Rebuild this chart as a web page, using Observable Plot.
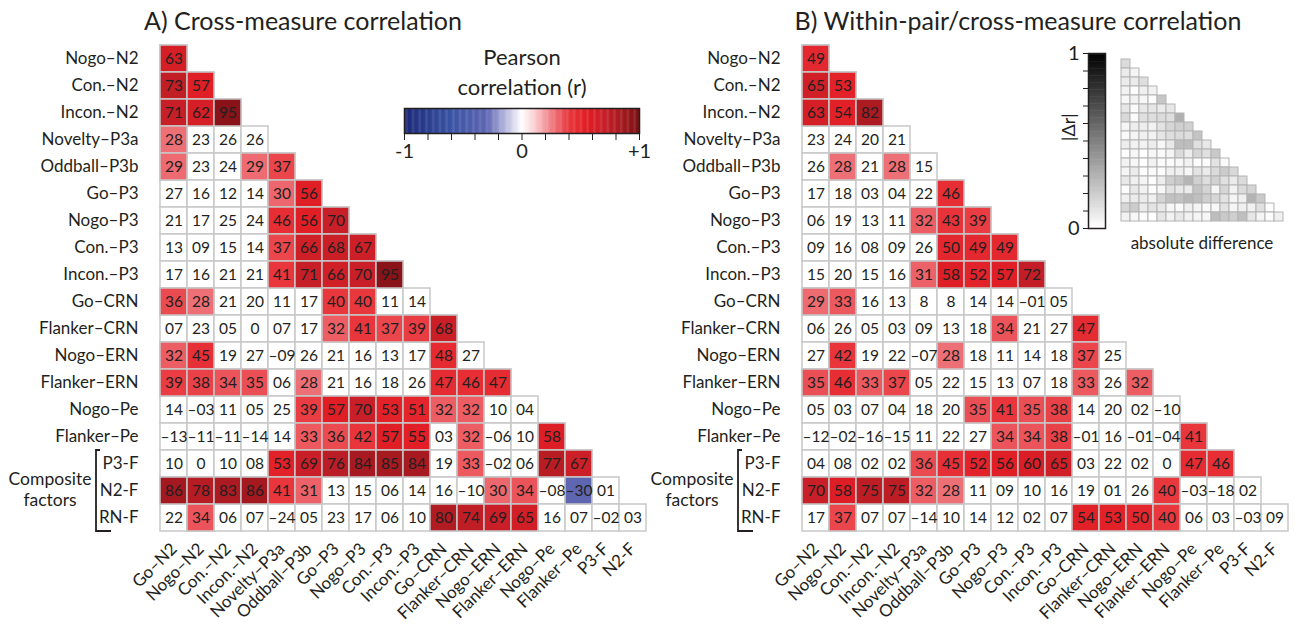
<!DOCTYPE html>
<html><head><meta charset="utf-8">
<script src="https://cdn.jsdelivr.net/npm/d3@7"></script>
<script src="https://cdn.jsdelivr.net/npm/@observablehq/plot@0.6"></script>
<style>
body{margin:0;background:#fff;font-family:Lato,"Open Sans",sans-serif;color:#231f20;}
#root{position:relative;width:1304px;height:624px;overflow:hidden;}
.abs{position:absolute;white-space:nowrap;}
.ctr{transform:translateX(-50%);text-align:center;}
.title{font-size:25px;line-height:30px;}
</style></head><body><div id="root"></div>
<script>
const FONT = "Lato, 'Open Sans', sans-serif";
const INK = "#231f20";

// row (y) and column (x) measures
const rowNames = ["Nogo–N2","Con.–N2","Incon.–N2","Novelty–P3a","Oddball–P3b","Go–P3","Nogo–P3","Con.–P3","Incon.–P3","Go–CRN","Flanker–CRN","Nogo–ERN","Flanker–ERN","Nogo–Pe","Flanker–Pe","P3-F","N2-F","RN-F"];
const colNames = ["Go–N2","Nogo–N2","Con.–N2","Incon.–N2","Novelty–P3a","Oddball–P3b","Go–P3","Nogo–P3","Con.–P3","Incon.–P3","Go–CRN","Flanker–CRN","Nogo–ERN","Flanker–ERN","Nogo–Pe","Flanker–Pe","P3-F","N2-F"];

// A) cross-measure correlations (r x 100), lower triangle by row
const corrA = [
["63"],
["73","57"],
["71","62","95"],
["28","23","26","26"],
["29","23","24","29","37"],
["27","16","12","14","30","56"],
["21","17","25","24","46","56","70"],
["13","09","15","14","37","66","68","67"],
["17","16","21","21","41","71","66","70","95"],
["36","28","21","20","11","17","40","40","11","14"],
["07","23","05","0","07","17","32","41","37","39","68"],
["32","45","19","27","-09","26","21","16","13","17","48","27"],
["39","38","34","35","06","28","21","16","18","26","47","46","47"],
["14","-03","11","05","25","39","57","70","53","51","32","32","10","04"],
["-13","-11","-11","-14","14","33","36","42","57","55","03","32","-06","10","58"],
["10","0","10","08","53","69","76","84","85","84","19","33","-02","06","77","67"],
["86","78","83","86","41","31","13","15","06","14","16","-10","30","34","-08","-30","01"],
["22","34","06","07","-24","05","23","17","06","10","80","74","69","65","16","07","-02","03"]
];

// B) within-pair / cross-measure correlations (r x 100)
const corrB = [
["49"],
["65","53"],
["63","54","82"],
["23","24","20","21"],
["26","28","21","28","15"],
["17","18","03","04","22","46"],
["06","19","13","11","32","43","39"],
["09","16","08","09","26","50","49","49"],
["15","20","15","16","31","58","52","57","72"],
["29","33","16","13","8","8","14","14","-01","05"],
["06","26","05","03","09","13","18","34","21","27","47"],
["27","42","19","22","-07","28","18","11","14","18","37","25"],
["35","46","33","37","05","22","15","13","07","18","33","26","32"],
["05","03","07","04","18","20","35","41","35","38","14","20","02","-10"],
["-12","-02","-16","-15","11","22","27","34","34","38","-01","16","-01","-04","41"],
["04","08","02","02","36","45","52","56","60","65","03","22","02","0","47","46"],
["70","58","75","75","32","28","11","09","10","16","19","01","26","40","-03","-18","02"],
["17","37","07","07","-14","10","14","12","02","07","54","53","50","40","06","03","-03","09"]
];

const sigThreshold = 0.28;
const legendTicks = [-1,-0.8,-0.6,-0.4,-0.2,0,0.2,0.4,0.6,0.8,1];
const diffTicks = [0,0.1,0.2,0.3,0.4,0.5,0.6,0.7,0.8,0.9,1];

const corrColor = {
  type: "linear",
  domain: [-1,-0.6,-0.3,-0.1,0,0.1,0.28,0.4,0.55,0.7,0.85,1],
  range: ["#1c2878","#3a54a4","#5e66b2","#c9c9e6","#ffffff","#fbd3d5","#ee7077","#e8383e","#e21e26","#c81f28","#a61a20","#7a1014"]
};
const diffColor = {type: "linear", domain: [0,1], range: ["#ffffff","#000000"]};

const root = document.getElementById("root");
function place(node, left, top) {
  node.style.position = "absolute"; node.style.left = left + "px"; node.style.top = top + "px";
  root.appendChild(node); return node;
}
function html(str, left, top, cls, css) {
  const d = document.createElement("div");
  d.className = "abs " + (cls || ""); d.innerHTML = str;
  d.style.left = left + "px"; d.style.top = top + "px";
  if (css) Object.assign(d.style, css);
  root.appendChild(d); return d;
}

function toData(rows) {
  const out = [];
  rows.forEach((r, i) => r.forEach((s, j) => out.push({row: rowNames[i], col: colNames[j], label: s.replace("-", "–"), v: +s / 100})));
  return out;
}

const CELL = 27.2;
function matrix(rows, left, width, marginLeft) {
  const data = toData(rows);
  const plot = Plot.plot({
    width, height: 624,
    marginLeft, marginRight: width - marginLeft - 18 * CELL,
    marginTop: 43, marginBottom: 624 - 43 - 18 * CELL,
    x: {domain: colNames, padding: 0, tickRotate: -45, tickSize: 0, tickPadding: 13, label: null},
    y: {domain: rowNames, padding: 0, tickSize: 0, tickPadding: 20, label: null},
    color: corrColor,
    style: {fontFamily: FONT, fontSize: "17px", color: INK, background: "transparent", overflow: "visible"},
    marks: [
      Plot.cell(data, {x: "col", y: "row", fill: "white", stroke: "#c8c8c8", strokeWidth: 1.5, inset: 0}),
      Plot.cell(data.filter(d => Math.abs(d.v) >= sigThreshold), {x: "col", y: "row", fill: "v", stroke: "#c8c8c8", strokeWidth: 1.5, inset: 0}),
      Plot.text(data, {x: "col", y: "row", text: "label", fill: INK, fontSize: 15.5, fontFamily: FONT})
    ]
  });
  // composite-factor bracket, positioned from the y scale
  const ys = plot.scale("y");
  const bw = ys.bandwidth;
  const yTop = ys.apply("P3-F"), yBot = ys.apply("RN-F") + bw;
  const bx = marginLeft - 62;
  const svg = d3.select(plot);
  svg.append("path").attr("d", `M${bx + 4},${yTop}H${bx}V${yBot}H${bx + 15}`)
    .attr("fill", "none").attr("stroke", INK).attr("stroke-width", 1.8);
  const yc = ys.apply("N2-F") + bw / 2;
  svg.append("text").attr("x", bx - 46).attr("y", yc - 12).attr("text-anchor", "middle").attr("dy", "0.35em")
    .attr("font-size", 17.5).attr("font-family", FONT).attr("fill", INK).text("Composite");
  svg.append("text").attr("x", bx - 46).attr("y", yc + 9).attr("text-anchor", "middle").attr("dy", "0.35em")
    .attr("font-size", 17.5).attr("font-family", FONT).attr("fill", INK).text("factors");
  return place(plot, left, 0);
}

matrix(corrA, 0, 660, 158);
matrix(corrB, 642, 662, 158);

// titles
html("A) Cross-measure correlation", 303, 5, "ctr title");
html("B) Within-pair/cross-measure correlation", 1018, 5, "ctr title");

// Pearson colour legend
html("Pearson<br>correlation (r)", 522, 42, "ctr", {fontSize: "22px", lineHeight: "30px"});
const ramp = d3.range(0, 200).map(i => -1 + i * 0.01);
const legend = Plot.plot({
  width: 290, height: 75, marginLeft: 24, marginRight: 31, marginTop: 13, marginBottom: 37,
  x: {domain: [-1, 1], ticks: legendTicks, tickSize: 7, tickPadding: 3, label: null,
      tickFormat: d => d === -1 ? "-1" : d === 0 ? "0" : d === 1 ? "+1" : ""},
  y: {domain: [0, 1], axis: null},
  color: corrColor,
  style: {fontFamily: FONT, fontSize: "20px", color: INK, background: "transparent", overflow: "visible"},
  marks: [
    Plot.rect(ramp, {x1: d => d, x2: d => Math.min(1, d + 0.013), y1: () => 0, y2: () => 1, fill: d => d + 0.005}),
    Plot.frame({stroke: INK, strokeWidth: 1.5})
  ]
});
place(legend, 380, 95);

// inset: absolute difference |A - B|
const diffData = [];
corrA.forEach((r, i) => r.forEach((s, j) => diffData.push({row: rowNames[i], col: colNames[j], d: Math.abs(+s - +corrB[i][j]) / 100})));
const inset = Plot.plot({
  width: 176, height: 176, margin: 1,
  x: {domain: colNames, padding: 0, axis: null},
  y: {domain: rowNames, padding: 0, axis: null},
  color: diffColor,
  style: {background: "transparent", overflow: "visible"},
  marks: [Plot.cell(diffData, {x: "col", y: "row", fill: "d", stroke: "#b4b4b4", strokeWidth: 1, inset: 0})]
});
place(inset, 1114, 52);
html("absolute difference", 1202, 232, "ctr", {fontSize: "17px"});

const gsteps = d3.range(0, 100).map(i => i * 0.01);
const gbar = Plot.plot({
  width: 50, height: 195, marginLeft: 30, marginRight: 3, marginTop: 8, marginBottom: 12,
  x: {domain: [0, 1], axis: null},
  y: {domain: [0, 1], ticks: diffTicks, tickSize: 5, tickPadding: 4, label: null,
      tickFormat: d => d === 0 ? "0" : d === 1 ? "1" : ""},
  color: diffColor,
  style: {fontFamily: FONT, fontSize: "20px", color: INK, background: "transparent", overflow: "visible"},
  marks: [
    Plot.rect(gsteps, {x1: () => 0, x2: () => 1, y1: d => d, y2: d => Math.min(1, d + 0.013), fill: d => d + 0.005}),
    Plot.frame({stroke: INK, strokeWidth: 1.5}),
    Plot.text(["|Δr|"], {frameAnchor: "left", dx: -19, rotate: -90, fontSize: 18, fill: INK})
  ]
});
place(gbar, 1058, 45);
</script></body></html>
